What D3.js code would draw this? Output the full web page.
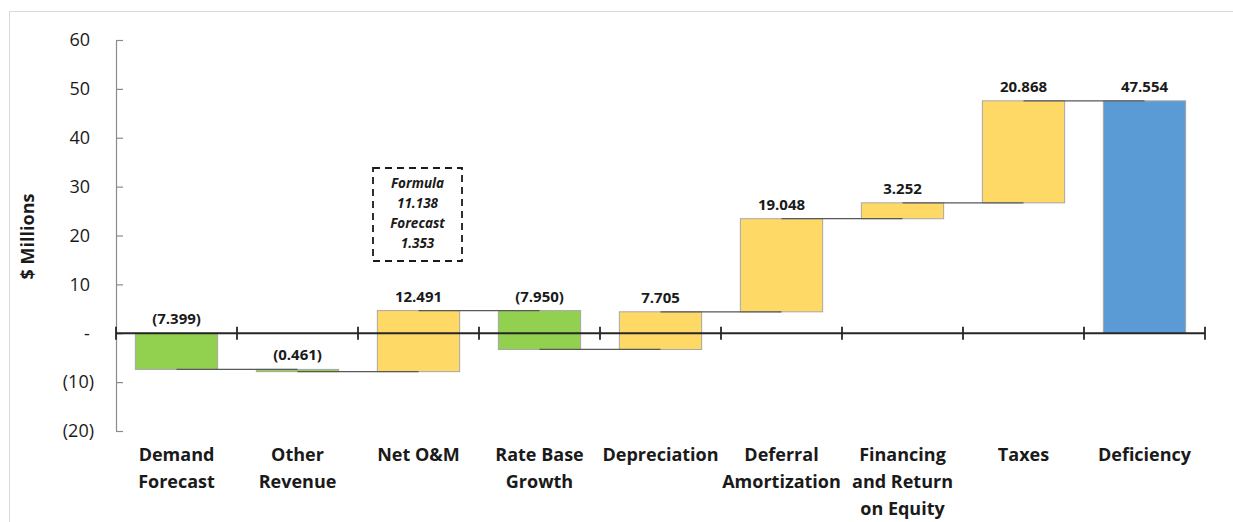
<!DOCTYPE html>
<html>
<head>
<meta charset="utf-8">
<script src="https://cdn.jsdelivr.net/npm/d3@7"></script>
<style>
  html, body { margin: 0; padding: 0; background: #fff; }
  svg { display: block; }
  text { font-family: "Open Sans", Lato, sans-serif; fill: #1a1a1a; }
</style>
</head>
<body>
<svg id="chart" width="1233" height="522"></svg>
<script>
// Revenue requirement bridge, $ millions
const categories = ["Demand\nForecast", "Other\nRevenue", "Net O&M", "Rate Base\nGrowth",
  "Depreciation", "Deferral\nAmortization", "Financing\nand Return\non Equity", "Taxes", "Deficiency"];
const changes = [-7.399, -0.461, 12.491, -7.950, 7.705, 19.048, 3.252, 20.868];
const kinds = ["decrease", "decrease", "increase", "decrease", "increase", "increase", "increase", "increase", "total"];
const yTicks = [-20, -10, 0, 10, 20, 30, 40, 50, 60];
const noteLines = ["Formula", "11.138", "Forecast", "1.353"];

const colors = { decrease: "#92D050", increase: "#FFD966", total: "#5B9BD5" };

// running totals -> bar extents
let run = 0;
const bars = categories.map((c, i) => {
  if (i < changes.length) {
    const start = run;
    run += changes[i];
    return { cat: c, start, end: run, value: changes[i], kind: kinds[i] };
  }
  return { cat: c, start: 0, end: run, value: run, kind: kinds[i] };
});

const fmt = v => v < 0 ? `(${Math.abs(v).toFixed(3)})` : v.toFixed(3);

const svg = d3.select("#chart");

// chart area frame
svg.append("rect")
  .attr("x", 9.5).attr("y", 11.5)
  .attr("width", 1400).attr("height", 700)
  .attr("fill", "none").attr("stroke", "#d9d9d9").attr("stroke-width", 1);

const x = d3.scaleBand().domain(categories).range([116, 1205])
  .paddingInner(0.32).paddingOuter(0.16);
const y = d3.scaleLinear().domain([-20, 60]).range([431, 40]);

// y axis: ticks point into the plot, accounting-style labels
const yAxis = d3.axisLeft(y).tickValues(yTicks)
  .tickSizeInner(-7).tickSizeOuter(-7).tickPadding(22)
  .tickFormat(v => v === 0 ? "-" : v < 0 ? `(${Math.abs(v)})` : `${v}`);
const gy = svg.append("g").attr("transform", "translate(116,0)").call(yAxis);
gy.select(".domain").attr("stroke", "#8c8c8c").attr("stroke-width", 1.2);
gy.selectAll(".tick line").attr("stroke", "#8c8c8c").attr("stroke-width", 1.2);
gy.selectAll(".tick text")
  .attr("font-size", 18).attr("font-family", "'Open Sans', sans-serif").attr("fill", "#262626")
  .attr("x", v => v === 0 ? -29 : v < 0 ? -22 : -26)
  .attr("text-anchor", v => v === 0 ? "middle" : "end");

// y axis title
svg.append("text")
  .attr("transform", `translate(34,${(y(60) + y(-20)) / 2 + 1}) rotate(-90)`)
  .attr("text-anchor", "middle")
  .attr("font-size", 18).attr("font-weight", 700)
  .text("$ Millions");

// bars
svg.append("g").selectAll("rect").data(bars).join("rect")
  .attr("x", d => x(d.cat))
  .attr("width", x.bandwidth())
  .attr("y", d => y(Math.max(d.start, d.end)))
  .attr("height", d => Math.abs(y(d.start) - y(d.end)))
  .attr("fill", d => colors[d.kind])
  .attr("stroke", "#a6a6a6").attr("stroke-width", 1);

// connectors between consecutive bars at the running total
const links = bars.slice(0, -1).map((d, i) => ({ a: d, b: bars[i + 1] }));
svg.append("g").selectAll("line").data(links).join("line")
  .attr("x1", d => x(d.a.cat) + x.bandwidth() / 2)
  .attr("x2", d => x(d.b.cat) + x.bandwidth() / 2)
  .attr("y1", d => y(d.a.end)).attr("y2", d => y(d.a.end))
  .attr("stroke", "#595959").attr("stroke-width", 1.2);

// x axis at zero with boundary ticks crossing the line
const edges = d3.scaleLinear().domain([0, categories.length]).range(x.range());
const gx = svg.append("g").attr("transform", `translate(0,${y(0)})`);
gx.append("line").attr("x1", edges(0)).attr("x2", edges(categories.length))
  .attr("stroke", "#262626").attr("stroke-width", 1.8);
gx.selectAll(".edge").data(d3.range(categories.length + 1)).join("line")
  .attr("class", "edge")
  .attr("x1", i => edges(i)).attr("x2", i => edges(i))
  .attr("y1", -6.5).attr("y2", 6.5)
  .attr("stroke", "#262626").attr("stroke-width", 1.8);

// value labels
svg.append("g").selectAll("text").data(bars).join("text")
  .attr("x", d => x(d.cat) + x.bandwidth() / 2)
  .attr("y", d => y(Math.max(d.start, d.end)) - 9)
  .attr("text-anchor", "middle")
  .attr("font-size", 15).attr("font-weight", 700)
  .text(d => fmt(d.value));

// category labels
const cl = svg.append("g").selectAll("text").data(categories).join("text")
  .attr("text-anchor", "middle")
  .attr("font-size", 18).attr("font-weight", 700);
cl.selectAll("tspan").data(c => c.split("\n").map(t => ({ t, c }))).join("tspan")
  .attr("x", d => x(d.c) + x.bandwidth() / 2)
  .attr("y", (d, i) => 461 + i * 27)
  .text(d => d.t);

// dashed note box above Net O&M
const note = svg.append("g");
note.append("rect")
  .attr("x", 373).attr("y", 168).attr("width", 89).attr("height", 93)
  .attr("fill", "none").attr("stroke", "#1a1a1a")
  .attr("stroke-width", 1.8).attr("stroke-dasharray", "7,5");
note.selectAll("text").data(noteLines).join("text")
  .attr("x", 417.5).attr("y", (d, i) => 188 + i * 20)
  .attr("text-anchor", "middle")
  .attr("font-size", 13.5).attr("font-weight", 700).attr("font-style", "italic")
  .text(d => d);
</script>
</body>
</html>
